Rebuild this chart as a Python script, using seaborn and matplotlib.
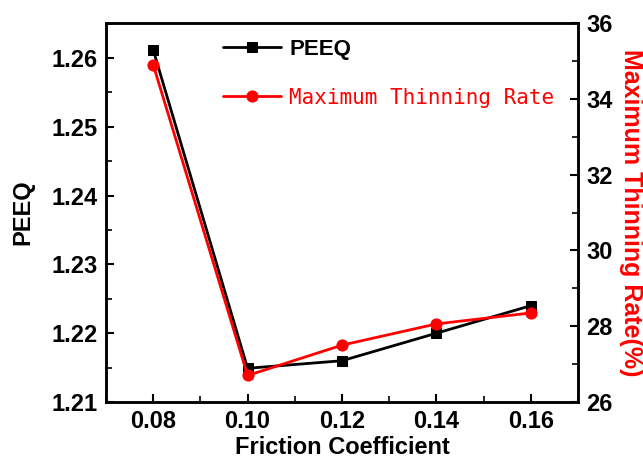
import matplotlib
matplotlib.use("Agg")
import matplotlib.pyplot as plt
import seaborn as sns
import pandas as pd
from matplotlib.ticker import MultipleLocator

friction = [0.08, 0.10, 0.12, 0.14, 0.16]
peeq = [1.2612, 1.2149, 1.2160, 1.2200, 1.2240]
thinning = [34.9, 26.7, 27.5, 28.06, 28.35]

sns.set_style("ticks")
plt.rcParams['font.family'] = ['Liberation Sans', 'DejaVu Sans']
plt.rcParams['font.weight'] = 'bold'
plt.rcParams['text.color'] = 'black'
plt.rcParams['axes.labelcolor'] = 'black'
plt.rcParams['xtick.color'] = 'black'
plt.rcParams['ytick.color'] = 'black'

df = pd.DataFrame({"Friction Coefficient": friction, "PEEQ": peeq, "Thinning": thinning})

fig = plt.figure(figsize=(6.43, 4.62), dpi=100)
ax = fig.add_axes([106/643, 1-402/462, (578-106)/643, (402-23)/462])
ax2 = ax.twinx()

sns.lineplot(data=df, x="Friction Coefficient", y="PEEQ", ax=ax, color="black",
             marker="s", markersize=7, markeredgecolor="black", linewidth=2, label="PEEQ", legend=False)
sns.lineplot(data=df, x="Friction Coefficient", y="Thinning", ax=ax2, color="red",
             marker="o", markersize=8, markeredgecolor="red", linewidth=2,
             label="Maximum Thinning Rate", legend=False)

ax.set_xlim(0.07, 0.17)
ax.set_ylim(1.21, 1.2651)
ax2.set_ylim(26, 36)
ax.set_xticks(friction)
ax.set_xticklabels(["0.08", "0.10", "0.12", "0.14", "0.16"])
ax.set_yticks([1.21, 1.22, 1.23, 1.24, 1.25, 1.26])
ax.set_yticklabels(["1.21", "1.22", "1.23", "1.24", "1.25", "1.26"])
ax2.set_yticks([26, 28, 30, 32, 34, 36])
ax.xaxis.set_minor_locator(MultipleLocator(0.01))
ax.yaxis.set_minor_locator(MultipleLocator(0.005))
ax2.yaxis.set_minor_locator(MultipleLocator(1))

for a in (ax, ax2):
    for s in a.spines.values():
        s.set_linewidth(1.8)
        s.set_color("black")
ax.tick_params(axis='both', which='major', direction='in', length=6, width=1.5, labelsize=17, pad=6,
               colors='black')
ax.tick_params(axis='both', which='minor', direction='in', length=4, width=1.2, colors='black')
ax.tick_params(axis='y', which='both', right=False)
ax.tick_params(axis='x', which='both', top=False)
ax2.tick_params(axis='y', which='major', direction='in', length=6, width=1.5, labelsize=17, pad=6,
                colors='black')
ax2.tick_params(axis='y', which='minor', direction='in', length=4, width=1.2, colors='black')

ax.set_xlabel("Friction Coefficient", fontsize=17, fontweight='bold', labelpad=2, color='black')
ax.set_ylabel("PEEQ", fontsize=17, fontweight='bold', labelpad=12, color='black')
ax2.set_ylabel("Maximum Thinning Rate(%)", fontsize=18, fontweight='bold', color='red',
               rotation=270, labelpad=22)

h1, l1 = ax.get_legend_handles_labels()
h2, l2 = ax2.get_legend_handles_labels()
leg = ax2.legend(h1 + h2, l1 + l2, loc='upper left', bbox_to_anchor=(0.205, 1.01),
                 frameon=False, handlelength=2.6, labelspacing=1.25, handletextpad=0.4,
                 prop={'size': 16, 'weight': 'bold'})
texts = leg.get_texts()
texts[0].set_color('black')
texts[1].set_color('red')
texts[1].set_fontfamily(['DejaVu Sans Mono'])
texts[1].set_fontweight('normal')
texts[1].set_fontsize(15)

fig.savefig("out.png", dpi=100)
